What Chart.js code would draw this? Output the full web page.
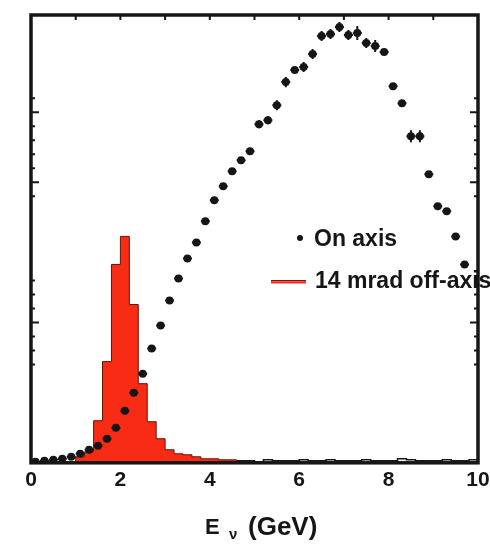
<!DOCTYPE html>
<html>
<head>
<meta charset="utf-8">
<script src="https://cdn.jsdelivr.net/npm/chart.js@4.4.1/dist/chart.umd.min.js"></script>
<style>
  html, body { margin: 0; padding: 0; background: #fff; }
  #wrap { width: 490px; height: 545px; }
</style>
</head>
<body>
<div id="wrap"><canvas id="chart" width="490" height="545"></canvas></div>
<script>
// On-axis spectrum, 0.2 GeV bins (centres), arbitrary units
const binCentres = [0.1, 0.3, 0.5, 0.7, 0.9, 1.1, 1.3, 1.5, 1.7, 1.9,
    2.1, 2.3, 2.5, 2.7, 2.9, 3.1, 3.3, 3.5, 3.7, 3.9,
    4.1, 4.3, 4.5, 4.7, 4.9, 5.1, 5.3, 5.5, 5.7, 5.9,
    6.1, 6.3, 6.5, 6.7, 6.9, 7.1, 7.3, 7.5, 7.7, 7.9,
    8.1, 8.3, 8.5, 8.7, 8.9, 9.1, 9.3, 9.5, 9.7];
const onAxisFlux = [1, 2, 3, 4, 6, 9, 13, 17, 24, 35,
    52, 70, 89, 114, 137, 162, 184, 204, 220, 241,
    262, 276, 291, 302, 311, 338, 342, 357, 380, 392,
    395, 408, 426, 428, 435, 427, 429, 419, 416, 410,
    376, 359, 326, 326, 288, 256, 251, 226, 198];
const onAxisErr = [1, 1, 1, 1, 1, 1, 2, 2, 2, 2,
    2, 2, 2, 2, 2, 2, 2, 2, 2, 2,
    2, 2, 3, 3, 3, 4, 4, 5, 5, 3,
    5, 5, 5, 5, 5, 5, 7, 5, 6, 3,
    3, 3, 6, 6, 3, 3, 3, 3, 3];
const binHalfWidth = 0.1;

// 14 mrad off-axis histogram
const offAxisEdges = [1.0, 1.2, 1.4, 1.6, 1.8, 2.0, 2.2, 2.4, 2.6, 2.8,
    3.0, 3.2, 3.4, 3.6, 3.8, 4.0, 4.2, 4.4, 4.6];
const offAxisFlux = [6, 11, 42, 101, 198, 226, 158, 79, 41, 24,
    13, 9, 8, 6, 4, 4, 3, 3];

// faint black tail above 4.6 GeV
const tailEdges = [4.6, 4.8, 5.0, 5.2, 5.4, 5.6, 5.8, 6.0, 6.2, 6.4,
    6.6, 6.8, 7.0, 7.2, 7.4, 7.6, 7.8, 8.0, 8.2, 8.4,
    8.6, 8.8, 9.0, 9.2, 9.4, 9.6, 9.8, 10.0];
const tailFlux = [2, 2, 1, 3, 2, 2, 2, 3, 2, 2,
    3, 2, 2, 2, 3, 2, 2, 2, 4, 3,
    2, 2, 2, 3, 2, 2, 3];

const xTicks = [0, 2, 4, 6, 8, 10];
const topTicks = [1, 2, 3, 4, 5, 6, 7, 8, 9];
const sideTicks = [364, 350, 336, 322, 308, 294, 280, 266, 182, 168, 154, 140, 126, 112, 98];
const sideTicksLong = [350, 280, 140];

const FONT = '"Liberation Sans", Arial, sans-serif';
const INK = '#161616';
const RED = '#f82c14';

function stepData(edges, heights) {
    const pts = [{ x: edges[0], y: 0 }];
    heights.forEach((h, i) => pts.push({ x: edges[i], y: h }));
    pts.push({ x: edges[edges.length - 1], y: 0 });
    return pts;
}

// error bars on the on-axis points
const errorBars = {
    id: 'errorBars',
    afterDatasetsDraw(chart) {
        const { ctx, scales: { x, y } } = chart;
        ctx.save();
        ctx.strokeStyle = INK;
        ctx.lineWidth = 2;
        binCentres.forEach((e, i) => {
            const px = x.getPixelForValue(e);
            const py = y.getPixelForValue(onAxisFlux[i]);
            ctx.beginPath();
            ctx.moveTo(x.getPixelForValue(e - binHalfWidth), py);
            ctx.lineTo(x.getPixelForValue(e + binHalfWidth), py);
            ctx.moveTo(px, y.getPixelForValue(onAxisFlux[i] - onAxisErr[i]));
            ctx.lineTo(px, y.getPixelForValue(onAxisFlux[i] + onAxisErr[i]));
            ctx.stroke();
        });
        ctx.restore();
    }
};

// thick box with inward ticks
const frame = {
    id: 'frame',
    afterDatasetsDraw(chart) {
        const { ctx, chartArea: a, scales: { x, y } } = chart;
        ctx.save();
        ctx.strokeStyle = INK;
        ctx.lineWidth = 2;
        ctx.beginPath();
        topTicks.forEach(v => {
            const px = x.getPixelForValue(v);
            ctx.moveTo(px, a.top);
            ctx.lineTo(px, a.top + 5);
        });
        sideTicks.forEach(v => {
            const py = y.getPixelForValue(v);
            const len = sideTicksLong.includes(v) ? 8 : 4;
            ctx.moveTo(a.left, py);
            ctx.lineTo(a.left + len, py);
            ctx.moveTo(a.right, py);
            ctx.lineTo(a.right - len, py);
        });
        ctx.stroke();
        ctx.lineWidth = 3.5;
        ctx.strokeRect(a.left, a.top, a.right - a.left, a.bottom - a.top);
        ctx.restore();
    }
};

// legend drawn inside the plot, plus the axis title with subscript
const annotations = {
    id: 'annotations',
    afterDraw(chart) {
        const { ctx } = chart;
        ctx.save();
        ctx.fillStyle = INK;
        ctx.textBaseline = 'alphabetic';
        ctx.font = 'bold 23px ' + FONT;

        ctx.beginPath();
        ctx.arc(300, 238, 3, 0, Math.PI * 2);
        ctx.fill();
        ctx.fillText('On axis', 314, 246);

        ctx.fillStyle = '#8a1005';
        ctx.fillRect(271, 280, 35, 1.5);
        ctx.fillStyle = RED;
        ctx.fillRect(271, 281.5, 35, 2);
        ctx.fillStyle = INK;
        ctx.fillText('14 mrad off-axis', 315, 288);

        // E_nu (GeV)
        const base = 534;
        ctx.font = 'bold 22px ' + FONT;
        ctx.fillText('E', 205, base);
        ctx.font = 'bold 15px ' + FONT;
        ctx.fillText('\u03bd', 229, base + 5);
        ctx.font = 'bold 26px ' + FONT;
        ctx.fillText('(GeV)', 248, base + 1);
        ctx.restore();
    }
};

const ctx = document.getElementById('chart').getContext('2d');
new Chart(ctx, {
    type: 'line',
    data: {
        datasets: [
            {
                label: 'On axis',
                data: binCentres.map((e, i) => ({ x: e, y: onAxisFlux[i] })),
                showLine: false,
                pointRadius: 4,
                pointBackgroundColor: INK,
                pointBorderWidth: 0,
                order: 0
            },
            {
                label: '14 mrad off-axis',
                data: stepData(offAxisEdges, offAxisFlux),
                stepped: true,
                fill: 'origin',
                backgroundColor: RED,
                borderColor: '#6a1204',
                borderWidth: 1,
                pointRadius: 0,
                order: 1
            },
            {
                label: 'tail',
                data: stepData(tailEdges, tailFlux),
                stepped: true,
                fill: false,
                borderColor: INK,
                borderWidth: 1.5,
                pointRadius: 0,
                order: 2
            }
        ]
    },
    options: {
        responsive: false,
        animation: false,
        layout: { padding: { left: 31, top: 15, right: 12, bottom: 47 } },
        plugins: {
            legend: { display: false },
            tooltip: { enabled: false }
        },
        scales: {
            x: {
                type: 'linear',
                min: 0,
                max: 10,
                afterBuildTicks: scale => {
                    scale.ticks = xTicks.map(v => ({ value: v }));
                },
                afterFit: scale => {
                    // let the "10" label hang past the frame as in the original
                    scale.paddingLeft = 0;
                    scale.paddingRight = 0;
                },
                grid: { display: false, drawTicks: false },
                border: { display: false },
                ticks: {
                    color: INK,
                    padding: 5,
                    maxRotation: 0,
                    autoSkip: false,
                    font: { family: FONT, size: 21, weight: 'bold' }
                }
            },
            y: {
                display: false,
                min: 0,
                max: 447
            }
        }
    },
    plugins: [errorBars, frame, annotations]
});
</script>
</body>
</html>
